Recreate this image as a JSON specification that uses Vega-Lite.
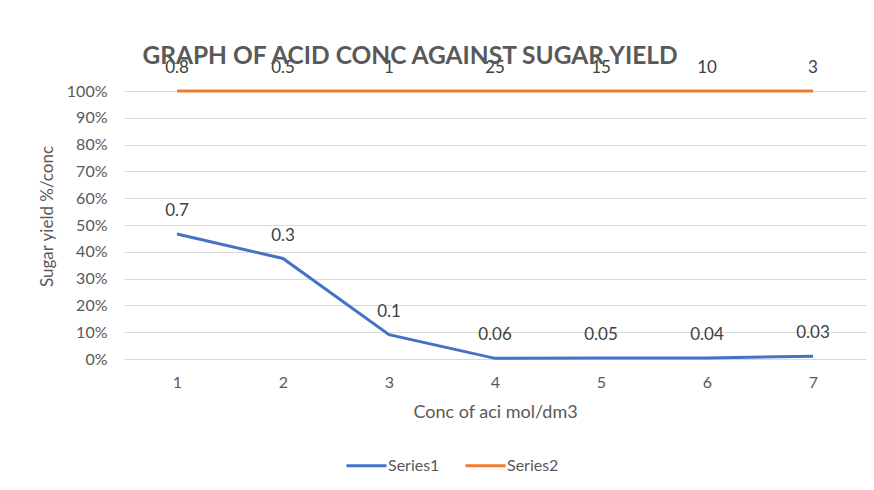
{
  "$schema": "https://vega.github.io/schema/vega-lite/v6.json",
  "width": 742,
  "height": 268,
  "autosize": {"type": "none"},
  "padding": {"left": 124, "top": 91, "right": 8, "bottom": 131},
  "background": "white",
  "config": {
    "font": "Lato",
    "view": {"stroke": null}
  },
  "title": {
    "text": "GRAPH OF ACID CONC AGAINST SUGAR YIELD",
    "font": "Lato",
    "fontSize": 24.5,
    "fontWeight": "bold",
    "color": "#595959",
    "anchor": "middle",
    "dx": -85,
    "offset": -10
  },
  "data": {
    "values": [
      {"conc": 1, "series": "Series1", "value": 0.7, "pct": 0.4667},
      {"conc": 2, "series": "Series1", "value": 0.3, "pct": 0.375},
      {"conc": 3, "series": "Series1", "value": 0.1, "pct": 0.0909},
      {"conc": 4, "series": "Series1", "value": 0.06, "pct": 0.0024},
      {"conc": 5, "series": "Series1", "value": 0.05, "pct": 0.0033},
      {"conc": 6, "series": "Series1", "value": 0.04, "pct": 0.004},
      {"conc": 7, "series": "Series1", "value": 0.03, "pct": 0.0099},
      {"conc": 1, "series": "Series2", "value": 0.8, "pct": 1},
      {"conc": 2, "series": "Series2", "value": 0.5, "pct": 1},
      {"conc": 3, "series": "Series2", "value": 1, "pct": 1},
      {"conc": 4, "series": "Series2", "value": 25, "pct": 1},
      {"conc": 5, "series": "Series2", "value": 15, "pct": 1},
      {"conc": 6, "series": "Series2", "value": 10, "pct": 1},
      {"conc": 7, "series": "Series2", "value": 3, "pct": 1}
    ]
  },
  "encoding": {
    "x": {
      "field": "conc",
      "type": "ordinal",
      "scale": {"type": "point", "padding": 0.5},
      "axis": {
        "title": "Conc of aci mol/dm3",
        "labelAngle": 0,
        "labelFontSize": 16,
        "labelColor": "#595959",
        "labelPadding": 15,
        "titleFontSize": 18,
        "titleFontWeight": "normal",
        "titleColor": "#595959",
        "titlePadding": 13,
        "ticks": false,
        "domain": false,
        "grid": false
      }
    },
    "y": {
      "field": "pct",
      "type": "quantitative",
      "scale": {"domain": [0, 1], "nice": false},
      "axis": {
        "title": "Sugar yield %/conc",
        "format": "%",
        "values": [0, 0.1, 0.2, 0.3, 0.4, 0.5, 0.6, 0.7, 0.8, 0.9, 1],
        "labelFontSize": 16,
        "labelColor": "#595959",
        "labelPadding": 17,
        "titleFontSize": 17,
        "titleFontWeight": "normal",
        "titleColor": "#595959",
        "titlePadding": 10,
        "titleY": 125,
        "ticks": false,
        "domain": false,
        "gridColor": "#D9D9D9",
        "gridWidth": 1
      }
    },
    "color": {
      "field": "series",
      "type": "nominal",
      "scale": {"domain": ["Series1", "Series2"], "range": ["#4472C4", "#ED7D31"]},
      "legend": {
        "title": null,
        "orient": "none",
        "legendX": 221,
        "legendY": 353,
        "direction": "horizontal",
        "symbolType": "stroke",
        "symbolSize": 1600,
        "symbolStrokeWidth": 3,
        "labelFontSize": 16,
        "labelColor": "#595959",
        "columnPadding": 19,
        "labelOffset": 0
      }
    }
  },
  "layer": [
    {"mark": {"type": "line", "strokeWidth": 3}},
    {
      "mark": {"type": "text", "dy": -23, "fontSize": 17, "baseline": "middle"},
      "encoding": {
        "text": {"field": "value", "type": "nominal"},
        "color": {"value": "#404040"}
      }
    }
  ]
}
